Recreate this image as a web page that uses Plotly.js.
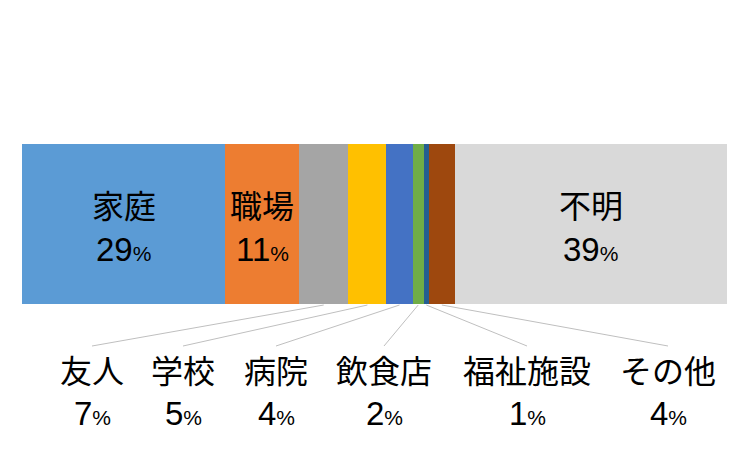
<!DOCTYPE html>
<html>
<head>
<meta charset="utf-8">
<script src="https://cdn.plot.ly/plotly-3.0.1.min.js"></script>
<style>html,body{margin:0;padding:0;background:#fff;}#chart{width:750px;height:454px;}</style>
</head>
<body>
<div id="chart"></div>
<script>
// Data
const categories = ['家庭', '職場', '友人', '学校', '病院', '飲食店', '福祉施設', 'その他', '不明'];
const shares = [28.8, 10.5, 7.0, 5.4, 3.7, 1.6, 0.7, 3.7, 38.6];
const colors = ['#5B9BD5', '#ED7D31', '#A5A5A5', '#FFC000', '#4472C4', '#70AD47', '#255E91', '#9E480E', '#D9D9D9'];
const insideLabels = ['家庭', '職場', '不明'];
const outsideLabels = ['友人', '学校', '病院', '飲食店', '福祉施設', 'その他'];
const outsideLabelX = [92, 183, 276, 384, 527, 668]; // pixel centres of label columns (layout)

// layout constants (pixels)
const W = 750, H = 454;
const plotL = 22, plotR = 727, plotT = 144, plotB = 304;
const plotH = plotB - plotT, plotW = plotR - plotL;
const py = p => (plotB - p) / plotH;   // pixel y -> paper y
const px = p => (p - plotL) / plotW;   // pixel x -> paper x

const CJK = '"Noto Sans CJK JP", "Noto Sans", sans-serif';
const NUM = '"Liberation Sans", Arial, sans-serif';
const nameSize = 32, numSize = 33, pctSize = 21;

const traces = categories.map((c, i) => ({
  type: 'bar', orientation: 'h', name: c,
  x: [shares[i]], y: [0], width: [1],
  marker: {color: colors[i], line: {width: 0}},
  hoverinfo: 'skip'
}));

// cumulative centres in data units
const centers = [];
let acc = 0;
shares.forEach(v => { centers.push(acc + v / 2); acc += v; });

const pctText = v => Math.round(v) + '<span style="font-size:' + pctSize + 'px">%</span>';

const annotations = [];
const shapes = [];

categories.forEach((c, i) => {
  if (insideLabels.includes(c)) {
    annotations.push({
      xref: 'x', yref: 'paper', x: centers[i], y: py(204),
      text: c, showarrow: false, xanchor: 'center', yanchor: 'middle',
      font: {family: CJK, size: nameSize, color: '#000'}
    });
    annotations.push({
      xref: 'x', yref: 'paper', x: centers[i], y: py(249),
      text: pctText(shares[i]), showarrow: false, xanchor: 'center', yanchor: 'middle',
      font: {family: NUM, size: numSize, color: '#000'}
    });
  }
});

outsideLabels.forEach((c, j) => {
  const i = categories.indexOf(c);
  const lx = px(outsideLabelX[j]);
  annotations.push({
    xref: 'paper', yref: 'paper', x: lx, y: py(369),
    text: c, showarrow: false, xanchor: 'center', yanchor: 'middle',
    font: {family: CJK, size: nameSize, color: '#000'}
  });
  annotations.push({
    xref: 'paper', yref: 'paper', x: lx, y: py(413),
    text: pctText(shares[i]), showarrow: false, xanchor: 'center', yanchor: 'middle',
    font: {family: NUM, size: numSize, color: '#000'}
  });
  // leader line from segment centre to label
  shapes.push({
    type: 'line', xref: 'x', yref: 'paper',
    x0: centers[i], y0: py(305), x1: (outsideLabelX[j] - plotL) / plotW * 100, y1: py(346),
    line: {color: '#BFBFBF', width: 1}
  });
});

const layout = {
  width: W, height: H,
  margin: {l: plotL, r: W - plotR, t: plotT, b: H - plotB, pad: 0},
  barmode: 'stack', bargap: 0,
  showlegend: false,
  paper_bgcolor: '#fff', plot_bgcolor: '#fff',
  xaxis: {range: [0, 100], visible: false, fixedrange: true},
  yaxis: {range: [-0.5, 0.5], visible: false, fixedrange: true},
  annotations: annotations,
  shapes: shapes,
  hovermode: false
};

Plotly.newPlot('chart', traces, layout, {staticPlot: true, displayModeBar: false});
</script>
</body>
</html>
